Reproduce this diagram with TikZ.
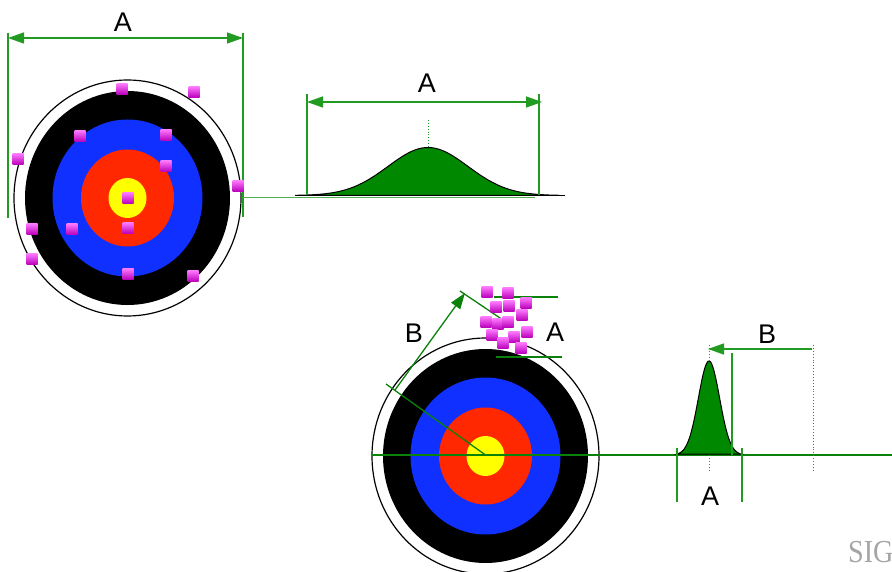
\documentclass[tikz,border=0pt]{standalone}
\usepackage{fontspec}
\setmainfont{Liberation Sans}
\newfontfamily\wmfont{Liberation Serif}
\usetikzlibrary{arrows.meta}
\definecolor{dimgreen}{RGB}{34,155,34}
\definecolor{darkdim}{RGB}{10,130,10}
\definecolor{lightdim}{RGB}{80,175,80}
\definecolor{bellgreen}{RGB}{0,136,0}
\definecolor{tblue}{RGB}{16,48,255}
\definecolor{tred}{RGB}{255,40,0}
\definecolor{tyellow}{RGB}{255,255,0}
\definecolor{mlight}{RGB}{255,120,255}
\definecolor{mdark}{RGB}{185,0,185}
\definecolor{wmgray}{RGB}{165,165,165}
\begin{document}
\begin{tikzpicture}[x=1pt,y=-1pt,
  dim/.style={dimgreen, line width=1.3pt},
  ddim/.style={darkdim, line width=1.3pt},
  arr/.style={-{Triangle[length=16pt,width=11pt]}},
  dots/.style={dimgreen, dotted, line width=0.9pt},
  lbl/.style={font=\fontsize{27}{30}\selectfont, inner sep=0pt, text=black},
  marker/.style={rectangle, minimum size=11pt, inner sep=0pt, top color=mlight, bottom color=mdark, draw=none},
  target/.pic={
    \fill[white, draw=black, line width=1.2pt] (0,0) ellipse [x radius=113.5, y radius=118];
    \fill[black] (0,0) ellipse [x radius=102.5, y radius=107];
    \fill[tblue] (0,0) ellipse [x radius=75, y radius=78.5];
    \fill[tred] (0,0) ellipse [x radius=46.5, y radius=48.5];
    \fill[tyellow] (0,0) ellipse [x radius=19, y radius=20];
  }
]
\useasboundingbox (0,0) rectangle (892,572);
\fill[white] (0,0) rectangle (892,572);

% ---------- top left target ----------
\pic at (127.5,198) {target};
\coordinate (tA1) at (8,38);
\coordinate (tA2) at (243,38);
\coordinate (tE1a) at (8,33);   \coordinate (tE1b) at (8,218);
\coordinate (tE2a) at (243,33); \coordinate (tE2b) at (243,217);
\draw[dim] (tE1a) -- (tE1b);
\draw[dim] (tE2a) -- (tE2b);
\draw[dim, {Triangle[length=16pt,width=11pt]}-{Triangle[length=16pt,width=11pt]}] (tA1) -- (tA2);
\node[lbl] (lblA1) at (123,22) {A};

% link to top bell
\coordinate (tL1) at (243,197.5);
\coordinate (tL2) at (535,197.5);
\draw[lightdim, line width=1.3pt] (tL1) -- (tL2);

% ---------- top bell curve ----------
\coordinate (bb1) at (295,195.5);
\coordinate (bb2) at (565,195.5);
\filldraw[fill=bellgreen, draw=black, line width=1pt]
  plot[domain=295:560, samples=80] (\x, {195.5 - 48*exp(-0.5*((\x-428)/40)^2)}) -- cycle;
\draw[black, line width=1.3pt] (bb1) -- (bb2);
\coordinate (bp1) at (428,120); \coordinate (bp2) at (428,147);
\draw[dots] (bp1) -- (bp2);
\coordinate (bA1) at (307,102); \coordinate (bA2) at (542,102);
\coordinate (bE1a) at (307,94); \coordinate (bE1b) at (307,195);
\coordinate (bE2a) at (539,94); \coordinate (bE2b) at (539,195);
\draw[dim] (bE1a) -- (bE1b);
\draw[dim] (bE2a) -- (bE2b);
\draw[dim, {Triangle[length=16pt,width=11pt]}-{Triangle[length=16pt,width=11pt]}] (bA1) -- (bA2);
\node[lbl] (lblA2) at (427,83) {A};

% top markers
\foreach \i/\p in {1/{(122,89)},2/{(194,92)},3/{(80,136)},4/{(166,135)},5/{(18,159)},
  6/{(166,166)},7/{(238,186)},8/{(128,198)},9/{(32,229)},10/{(72,229)},11/{(128,228)},
  12/{(32,259)},13/{(128,274)},14/{(193,276)}}
  \node[marker] (m\i) at \p {};

% ---------- bottom target ----------
\pic at (485.5,456) {target};
\coordinate (cC) at (485.5,455);
\coordinate (hL1) at (372,455);
\coordinate (hL2) at (892,455);
\draw[ddim] (hL1) -- (hL2);
\coordinate (rad) at (386,384);
\draw[ddim] (cC) -- (rad);
\coordinate (bF) at (395,390);
\coordinate (bT) at (465,293);
\draw[ddim, arr] (bF) -- (bT);
\coordinate (eT1) at (460,291);
\coordinate (eT2) at (503,320);
\draw[ddim] (eT1) -- (eT2);
\coordinate (cA1) at (494,297); \coordinate (cA2) at (558,297);
\coordinate (cB1) at (496,357); \coordinate (cB2) at (562,357);
\draw[ddim] (cA1) -- (cA2);
\draw[ddim] (cB1) -- (cB2);
\node[lbl] (lblA3) at (555,332) {A};
\node[lbl] (lblB1) at (414,333) {B};

% cluster markers
\foreach \i/\p in {15/{(487,292)},16/{(508,293)},17/{(496,307)},18/{(509,306)},19/{(526,303)},
  20/{(522,315)},21/{(486,322)},22/{(498,324)},23/{(508,322)},24/{(527,332)},
  25/{(492,335)},26/{(514,337)},27/{(503,343)},28/{(521,348)}}
  \node[marker] (m\i) at \p {};

% ---------- bottom bell curve ----------
\filldraw[fill=bellgreen, draw=black, line width=1pt]
  plot[domain=677:741, samples=80] (\x, {455 - 94*exp(-0.5*((\x-709)/10.6)^2)}) -- cycle;
\coordinate (sp1) at (709,345); \coordinate (sp2) at (709,361);
\coordinate (sp3) at (709,455); \coordinate (sp4) at (709,470);
\draw[dots] (sp1) -- (sp2);
\draw[dots] (sp3) -- (sp4);
\coordinate (sB1) at (812,349); \coordinate (sB2) at (708,349);
\draw[dim, arr] (sB1) -- (sB2);
\coordinate (sV1) at (732,353); \coordinate (sV2) at (732,455);
\draw[dim] (sV1) -- (sV2);
\coordinate (sD1) at (813,345); \coordinate (sD2) at (813,470);
\draw[dots] (sD1) -- (sD2);
\node[lbl] (lblB2) at (767,334) {B};
\coordinate (sa1) at (677,448); \coordinate (sa2) at (677,502);
\coordinate (sa3) at (742,448); \coordinate (sa4) at (742,502);
\draw[dim] (sa1) -- (sa2);
\draw[dim] (sa3) -- (sa4);
\node[lbl] (lblA4) at (710,496) {A};

% watermark
\begin{scope}
\clip (0,0) rectangle (892,572);
\node[anchor=base west, inner sep=0pt, text=wmgray, xscale=0.88, font=\wmfont\fontsize{32}{34}\selectfont] (wm) at (848,562) {SIG};
\end{scope}
\end{tikzpicture}
\end{document}
